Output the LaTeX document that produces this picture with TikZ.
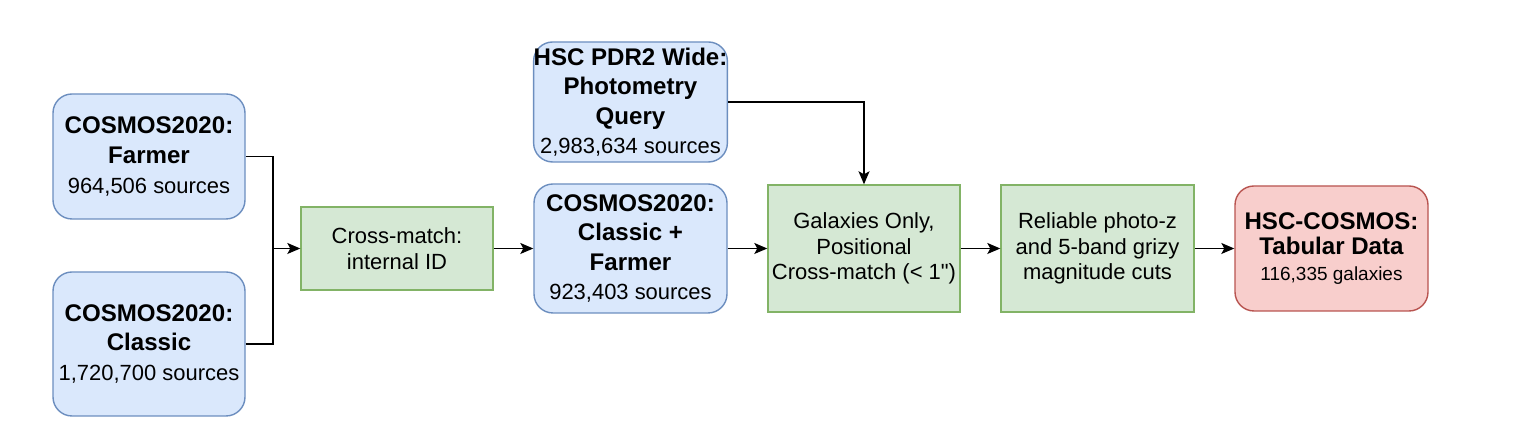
\documentclass[tikz,border=0pt]{standalone}
\usepackage{fontspec}
\setmainfont{Liberation Sans}
\newfontfamily\plainq{Liberation Sans}
\usetikzlibrary{calc, arrows.meta}

\definecolor{srcfill}{HTML}{DAE8FC}
\definecolor{srcline}{HTML}{6C8EBF}
\definecolor{cutfill}{HTML}{D5E8D4}
\definecolor{cutline}{HTML}{82B366}
\definecolor{outfill}{HTML}{F8CECC}
\definecolor{outline}{HTML}{B85450}

\newcommand{\ttl}[1]{{\bfseries\fontsize{13.7}{16.8}\selectfont #1}}

\tikzset{
    srcbox/.style={draw=srcline, fill=srcfill, line width=0.8pt, rounded corners=0.38cm,
        minimum width=3.84cm, align=center, inner sep=0pt,
        font=\fontsize{12.5}{16.8}\selectfont},
    cutbox/.style={draw=cutline, fill=cutfill, line width=0.8pt,
        minimum width=3.84cm, align=center, inner sep=0pt,
        font=\fontsize{12.5}{14.5}\selectfont},
    outbox/.style={draw=outline, fill=outfill, line width=0.8pt, rounded corners=0.38cm,
        minimum width=3.86cm, minimum height=2.5cm, align=center, inner sep=0pt,
        font=\fontsize{10.8}{14.7}\selectfont},
    arr/.style={line width=0.8pt, -{Stealth[length=0.26cm, width=0.22cm, inset=0.06cm]}}
}

\begin{document}
\begin{tikzpicture}
    % Fix the margins of the picture
    \useasboundingbox (0,0) rectangle (30.44,8.7);

    % Input catalogues
    \node[srcbox, minimum height=2.5cm] (farmer) at (2.98,5.57)
        {\ttl{COSMOS2020:}\\ \ttl{Farmer}\\ 964,506 sources};
    \node[srcbox, minimum height=2.88cm] (classic) at (2.98,1.82)
        {\ttl{COSMOS2020:}\\ \ttl{Classic}\\ 1,720,700 sources};
    \node[srcbox, minimum width=3.86cm, minimum height=2.4cm] (hsc) at (12.61,6.66)
        {\ttl{HSC PDR2 Wide:}\\ \ttl{Photometry}\\ \ttl{Query}\\ 2,983,634 sources};

    % Processing steps along the main row
    \node[cutbox, minimum height=1.66cm] (cross) at (7.94,3.73)
        {Cross-match:\\ internal ID};
    \node[srcbox, minimum width=3.86cm, minimum height=2.58cm] (combo) at (12.61,3.73)
        {\ttl{COSMOS2020:}\\ \ttl{Classic +}\\ \ttl{Farmer}\\ 923,403 sources};
    \node[cutbox, minimum height=2.54cm] (galax) at (17.28,3.73)
        {Galaxies Only,\\ Positional\\ Cross-match (< 1{\plainq"})};
    \node[cutbox, minimum width=3.86cm, minimum height=2.54cm] (reli) at (21.95,3.73)
        {Reliable photo-z\\ and 5-band grizy\\ magnitude cuts};
    \node[outbox] (final) at (26.63,3.73)
        {{\bfseries\fontsize{13.7}{14.7}\selectfont HSC-COSMOS:}\\
         {\bfseries\fontsize{13.7}{14.7}\selectfont Tabular Data}\\ 116,335 galaxies};

    % Join the two COSMOS2020 catalogues
    \coordinate (join) at (5.46,3.73);
    \draw[line width=0.8pt] (farmer.east) -| (join);
    \draw[line width=0.8pt] (classic.east) -| (join);
    \draw[arr] (join) -- (cross.west);

    % Main row arrows
    \foreach \a/\b in {cross/combo, combo/galax, galax/reli, reli/final}{
        \draw[arr] (\a.east) -- (\b.west);
    }

    % HSC photometry comes in from above
    \draw[arr] (hsc.east) -| (galax.north);
\end{tikzpicture}
\end{document}
